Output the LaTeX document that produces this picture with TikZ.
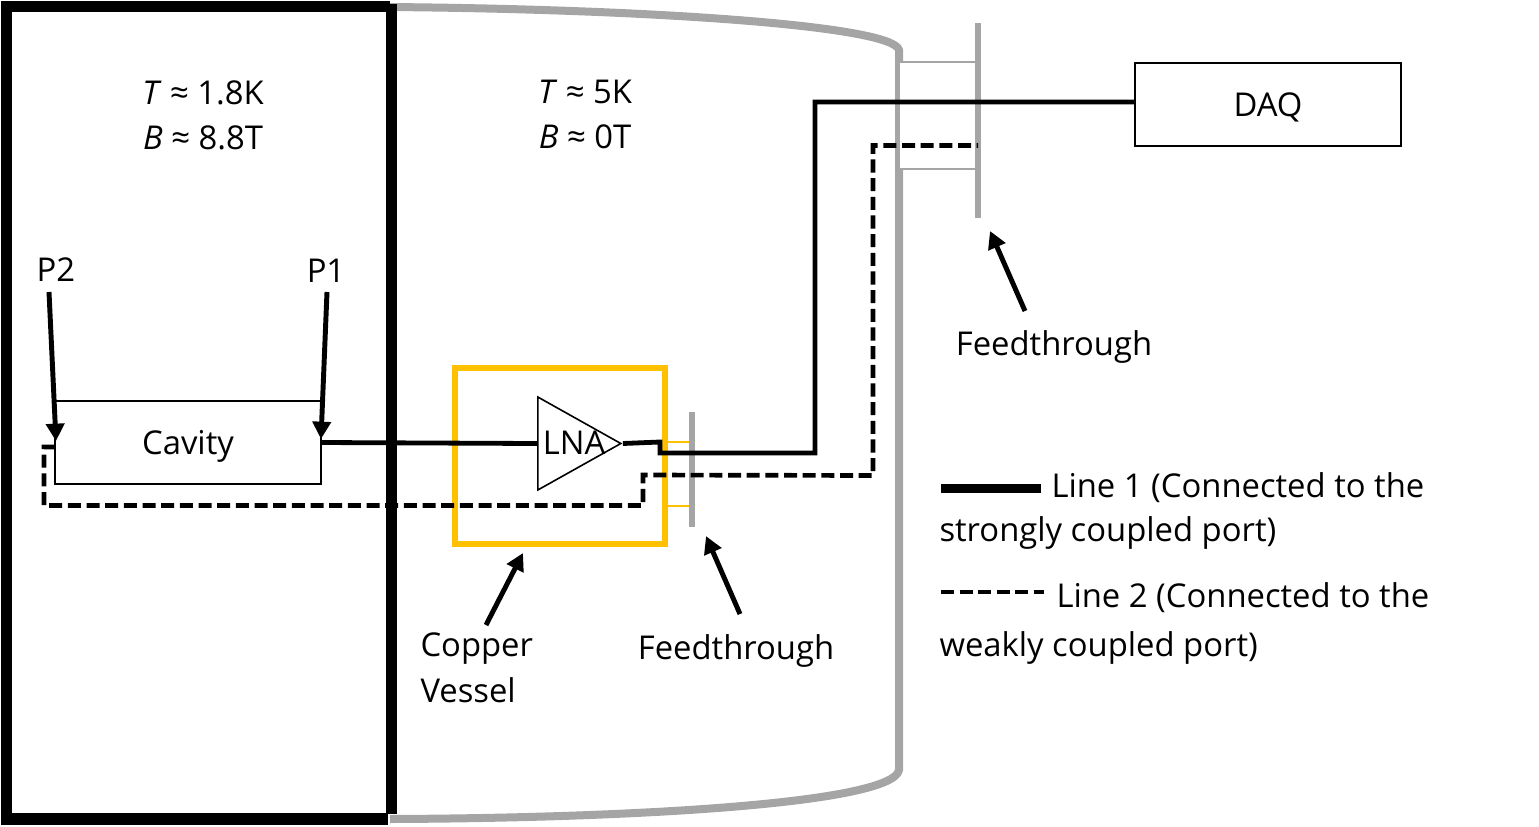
\documentclass[tikz,border=0pt]{standalone}
\usepackage{fontspec}
\setmainfont{Open Sans}
\usetikzlibrary{arrows.meta,shapes.geometric}

\definecolor{cryogray}{RGB}{165,165,165}
\definecolor{coppergold}{RGB}{255,192,0}

\tikzset{every picture/.style={line width=0.75pt}}
\tikzset{
	box/.style={draw,line width=1.2pt,inner sep=0pt},
	lineone/.style={line width=3.6pt},
	linetwo/.style={line width=3.5pt,dash pattern=on 9.8pt off 4.2pt},
	pointer/.style={line width=3.7pt,-{Triangle[width=13.5pt,length=13pt]}},
	label/.style={font=\fontsize{24.6}{29}\selectfont,inner sep=0pt},
	legend/.style={label,anchor=west}
}

\begin{document}
\begin{tikzpicture}[x=0.75pt,y=0.75pt,yscale=-1,xscale=1]
	\useasboundingbox (0,0) rectangle (1539,826);

	%Cryostat wall
	\draw [cryogray,line width=6pt] (388,7) .. controls (640,9) and (893,25) .. (899,50) -- (899,770) .. controls (893,803) and (640,818) .. (390,819) ;
	%Cold stage box
	\draw [line width=8.4pt,line join=miter] (388,819) -- (6.5,819) -- (6.5,6.5) -- (390,6.5) ;
	\draw [line width=8.4pt] (391.5,4) -- (391.5,814) ;
	%Feedthrough outer
	\draw [cryogray,fill=white,line width=1.5pt] (898.5,62) rectangle (978,169) ;
	\draw [cryogray,line width=4.5pt] (978,23) -- (978,218) ;
	%Copper vessel
	\node (vessel) [draw=coppergold,line width=3.9pt,minimum width=157.5pt,minimum height=132pt,inner sep=0pt] at (560,456) {};
	%Feedthrough inner
	\draw [coppergold,line width=1.2pt] (665,442) -- (692,442) (665,506) -- (692,506) ;
	\draw [cryogray,line width=4.5pt] (692,412) -- (692,527) ;

	% Text Node
	\node (cavity) [box,minimum width=199.5pt,minimum height=62.25pt] at (188,442.5) {};
	\node [label] at (188,446) {Cavity};
	\node (daq) [box,minimum width=199.5pt,minimum height=62.25pt] at (1268,104.5) {};
	\node [label] at (1268,107) {DAQ};
	\node (lna) [draw,line width=1.2pt,isosceles triangle,isosceles triangle stretches,minimum height=62.25pt,minimum width=69.75pt,inner sep=0pt,anchor=west] at (537,443.5) {};
	\node [label] at (574,443) {LNA};

	\node [label] at (203,93) {\textit{T} ≈ 1.8K};
	\node [label] at (203,138) {\textit{B} ≈ 8.8T};
	\node [label] at (585,92) {\textit{T} ≈ 5K};
	\node [label] at (585,137) {\textit{B} ≈ 0T};
	\node (ptwo) [label] at (56,270) {P2};
	\node (pone) [label] at (326,271) {P1};
	\node (ftouter) [label] at (1054,347) {Feedthrough};
	\node (ftinner) [label] at (736,651) {Feedthrough};
	\node (copper) [legend] at (420,649) {Copper};
	\node [legend] at (420,690) {Vessel};

	\node (lgone) [legend] at (1051,488) {Line 1 (Connected to the};
	\node [legend] at (939,533) {strongly coupled port)};
	\node (lgtwo) [legend] at (1056,598) {Line 2 (Connected to the};
	\node [legend] at (939,648) {weakly coupled port)};

	%Named ends
	\coordinate (ftouterend) at (978,145.5);
	\coordinate (daqin) at (1135,102);
	\coordinate (cavout) at (55,447);
	\coordinate (ptwotail) at (49,292);
	\coordinate (ptwotip) at (56,441);
	\coordinate (ponetail) at (327,292);
	\coordinate (ponetip) at (321,439);
	\coordinate (ftoutertail) at (1025,311);
	\coordinate (ftoutertip) at (990,231);
	\coordinate (ftinnertail) at (740,614);
	\coordinate (ftinnertip) at (706,536);
	\coordinate (coppertail) at (486,625);
	\coordinate (coppertip) at (523,553);
	\coordinate (lgonea) at (941,488);
	\coordinate (lgoneb) at (1041,488);
	\coordinate (lgtwoa) at (941,592);
	\coordinate (lgtwob) at (1044,592);

	%Line 1
	\draw [lineone] (cavity.east) -- (lna.west) ;
	\draw [lineone] (lna.apex) -- (660,442) -- (660,453) -- (815,453) -- (815,102) -- (daqin) ;
	%Line 2
	\draw [linetwo] (cavout) -- (44,447) -- (44,505.5) -- (643,505.5) -- (643,475) -- (873,475.5) -- (873,145.5) -- (ftouterend) ;

	%Pointers
	\draw [pointer] (ptwotail) -- (ptwotip) ;
	\draw [pointer] (ponetail) -- (ponetip) ;
	\draw [pointer] (ftoutertail) -- (ftoutertip) ;
	\draw [pointer] (ftinnertail) -- (ftinnertip) ;
	\draw [pointer] (coppertail) -- (coppertip) ;

	%Legend
	\draw [line width=6.75pt] (lgonea) -- (lgoneb) ;
	\draw [line width=2.7pt,dash pattern=on 9.9pt off 4pt] (lgtwoa) -- (lgtwob) ;

\end{tikzpicture}
\end{document}
